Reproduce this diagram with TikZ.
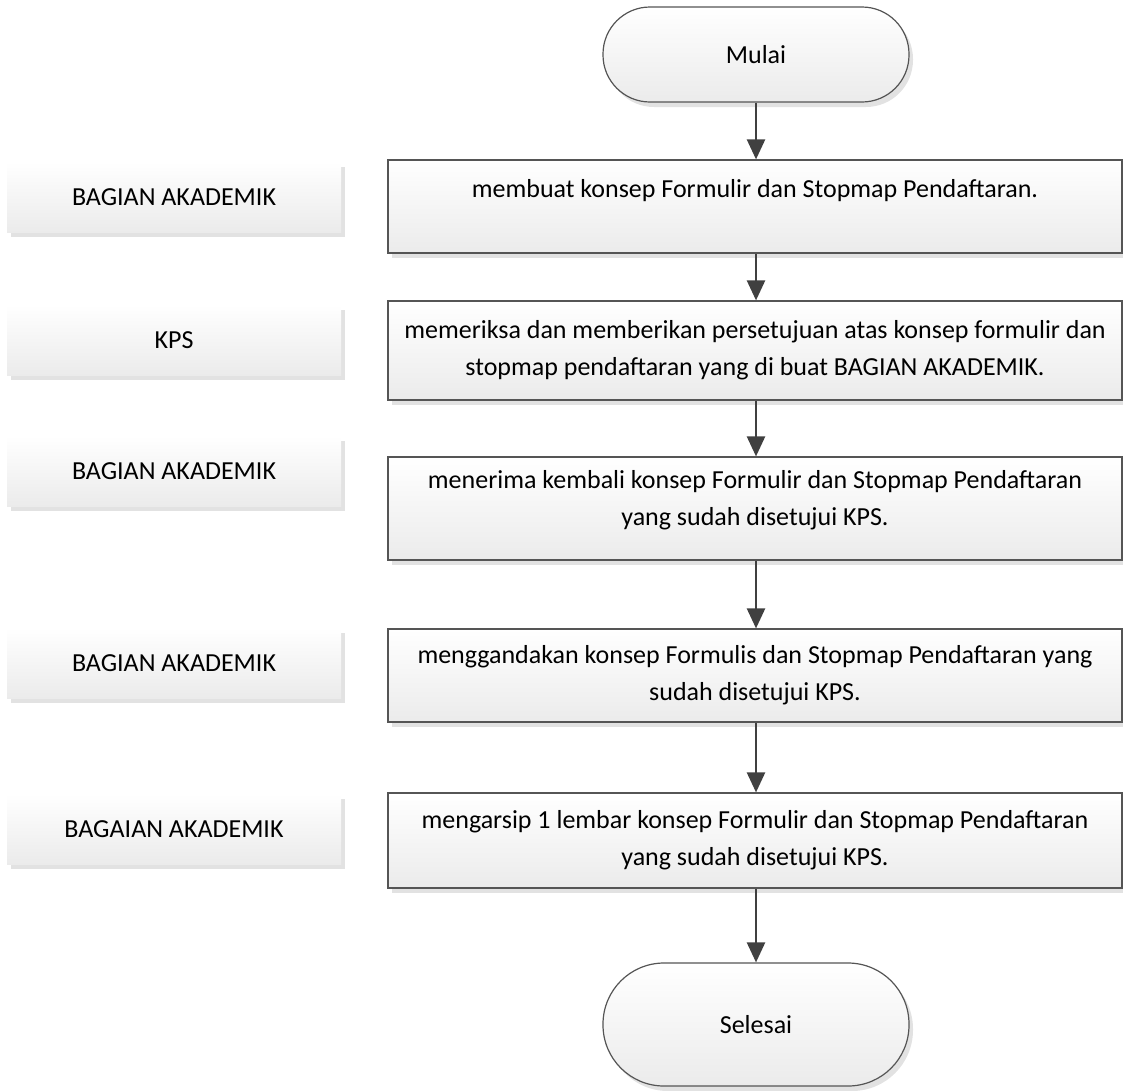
\documentclass[tikz,border=0pt]{standalone}
\usepackage{fontspec}
\setmainfont{Carlito}
\usetikzlibrary{arrows.meta,shadows}
\definecolor{edge}{HTML}{555555}
\definecolor{arr}{HTML}{404040}
\definecolor{shade}{HTML}{EBEBEB}
\definecolor{shad}{HTML}{E2E2E2}
\tikzset{
  every node/.style={font=\fontsize{26}{37}\selectfont, align=center, inner sep=0pt},
  procbox/.style={draw=edge, line width=1.2pt, top color=white, bottom color=shade,
    minimum width=734pt, drop shadow={shadow xshift=4pt, shadow yshift=-5pt, fill=shad, opacity=1}},
  lanebox/.style={top color=white, bottom color=shade, minimum width=334pt, minimum height=70pt,
    drop shadow={shadow xshift=4pt, shadow yshift=-5pt, fill=shad, opacity=1}},
  termbox/.style={draw=edge, line width=1.2pt, top color=white, bottom color=shade,
    minimum width=306pt, drop shadow={shadow xshift=4pt, shadow yshift=-5pt, fill=shad, opacity=1}},
  flow/.style={draw=arr, line width=2.4pt, -{Triangle[length=20pt,width=18pt]}}
}
\begin{document}
\begin{tikzpicture}[x=1pt,y=-1pt]
\useasboundingbox (0,0) rectangle (1123,1090);
\node[lanebox] (l1) at (174,197) {BAGIAN AKADEMIK};
\node[lanebox] (l2) at (174,340) {KPS};
\node[lanebox] (l3) at (174,471) {BAGIAN AKADEMIK};
\node[lanebox] (l4) at (174,663) {BAGIAN AKADEMIK};
\node[lanebox] (l5) at (174,829) {BAGAIAN AKADEMIK};
\node[termbox, minimum height=95pt, rounded corners=47pt] (start) at (756,54.5) {Mulai};
\node[procbox, minimum height=93pt] (b1) at (755,206.5) {membuat konsep Formulir dan Stopmap Pendaftaran.\\\mbox{}};
\node[procbox, minimum height=99pt] (b2) at (755,350.5) {memeriksa dan memberikan persetujuan atas konsep formulir dan\\stopmap pendaftaran yang di buat BAGIAN AKADEMIK.};
\node[procbox, minimum height=103pt] (b3) at (755,508.5) {menerima kembali konsep Formulir dan Stopmap Pendaftaran\\yang sudah disetujui KPS.\\[-16pt]\mbox{}};
\node[procbox, minimum height=93pt] (b4) at (755,675.5) {menggandakan konsep Formulis dan Stopmap Pendaftaran yang\\sudah disetujui KPS.};
\node[procbox, minimum height=95pt] (b5) at (755,840.5) {mengarsip 1 lembar konsep Formulir dan Stopmap Pendaftaran\\yang sudah disetujui KPS.};
\node[termbox, minimum height=123pt, rounded corners=61pt] (end) at (756,1024.5) {Selesai};
\draw[flow] (start.south) -- (b1.north -| start.south);
\draw[flow] (b1.south -| start.south) -- (b2.north -| start.south);
\draw[flow] (b2.south -| start.south) -- (b3.north -| start.south);
\draw[flow] (b3.south -| start.south) -- (b4.north -| start.south);
\draw[flow] (b4.south -| start.south) -- (b5.north -| start.south);
\draw[flow] (b5.south -| start.south) -- (end.north);
\end{tikzpicture}
\end{document}
